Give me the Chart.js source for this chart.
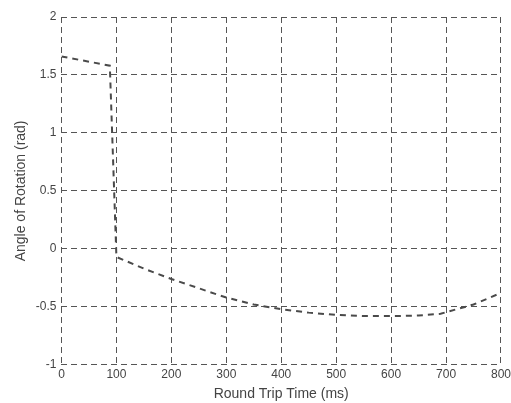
<!DOCTYPE html>
<html>
<head>
<meta charset="utf-8">
<script src="https://cdn.jsdelivr.net/npm/chart.js@4/dist/chart.umd.min.js"></script>
<style>
  body { margin: 0; background: #fff; }
  canvas { display: block; }
</style>
</head>
<body>
<canvas id="chart-rotation" width="511" height="403"></canvas>
<script>
var roundTripMs = [0, 88, 100, 150, 200, 250, 300, 350, 400, 450, 500, 550, 600, 650, 690, 750, 800];
var angleRad = [1.66, 1.58, -0.07, -0.17, -0.26, -0.34, -0.42, -0.48, -0.52, -0.55, -0.57, -0.58, -0.58, -0.575, -0.56, -0.48, -0.38];

var points = roundTripMs.map(function (x, i) {
    return { x: x, y: angleRad[i] };
});

var gridColor = '#555555';
var textColor = '#444444';

var config = {
    type: 'line',
    data: {
        datasets: [{
            data: points,
            borderColor: '#4a4a4a',
            borderWidth: 2,
            borderDash: [6, 5],
            pointRadius: 0,
            fill: false,
            tension: 0
        }]
    },
    options: {
        responsive: false,
        animation: false,
        layout: { padding: { top: 17, right: 0, left: 4, bottom: 0 } },
        plugins: {
            legend: { display: false },
            tooltip: { enabled: false }
        },
        scales: {
            x: {
                type: 'linear',
                min: 0,
                max: 800,
                afterFit: function (scale) {
                    scale.paddingRight = Math.max(0, scale.paddingRight - 3);
                },
                ticks: {
                    stepSize: 100,
                    color: textColor,
                    font: { family: 'Liberation Sans', size: 12 },
                    padding: 3,
                    maxRotation: 0
                },
                grid: { color: gridColor, lineWidth: 1, drawTicks: false },
                border: { display: false, dash: [6, 4] },
                title: {
                    display: true,
                    text: 'Round Trip Time (ms)',
                    color: textColor,
                    font: { family: 'Liberation Sans', size: 14 },
                    padding: { top: 1, bottom: 0 }
                }
            },
            y: {
                min: -1,
                max: 2,
                ticks: {
                    stepSize: 0.5,
                    color: textColor,
                    font: { family: 'Liberation Sans', size: 12 },
                    padding: 5,
                    callback: function (v) { return String(v); }
                },
                grid: { color: gridColor, lineWidth: 1, drawTicks: false },
                border: { display: false, dash: [6, 4] },
                title: {
                    display: true,
                    text: 'Angle of Rotation (rad)',
                    color: textColor,
                    font: { family: 'Liberation Sans', size: 14 },
                    padding: { top: 9, bottom: 1 }
                }
            }
        }
    }
};

window.onload = function () {
    var ctx = document.getElementById('chart-rotation').getContext('2d');
    window.rotationChart = new Chart(ctx, config);
};
</script>
</body>
</html>
